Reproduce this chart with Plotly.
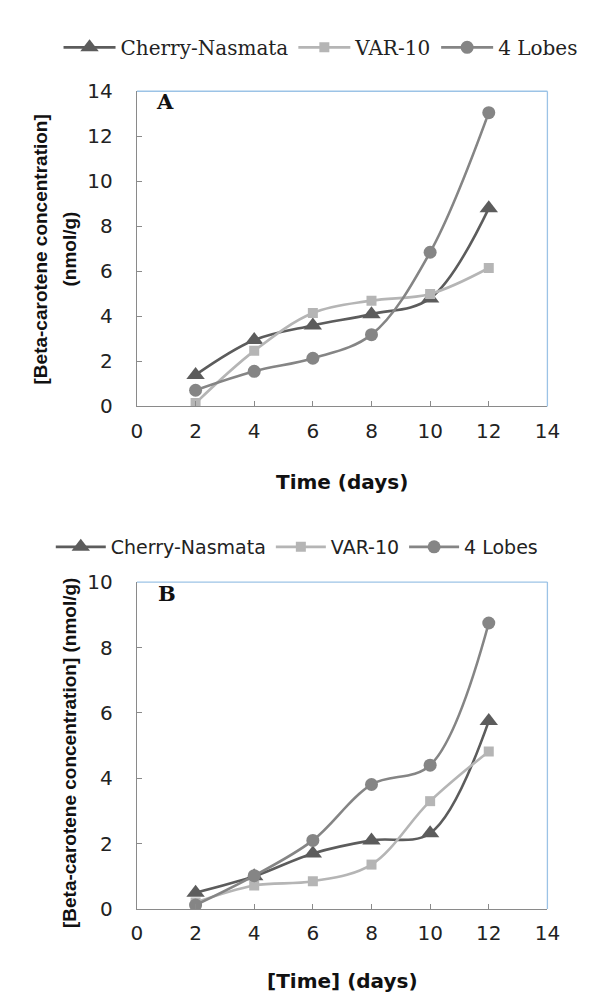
import plotly.graph_objects as go

# ---------------- data ----------------
days = [2, 4, 6, 8, 10, 12]
series_names = ["Cherry-Nasmata", "VAR-10", "4 Lobes"]

a_cherry = [1.40, 2.95, 3.60, 4.10, 4.80, 8.80]
a_var10 = [0.15, 2.47, 4.15, 4.70, 5.00, 6.15]
a_lobes = [0.72, 1.56, 2.14, 3.19, 6.85, 13.05]

b_cherry = [0.50, 1.00, 1.70, 2.10, 2.32, 5.75]
b_var10 = [0.20, 0.72, 0.85, 1.36, 3.30, 4.82]
b_lobes = [0.12, 1.02, 2.10, 3.81, 4.40, 8.75]

x_tick_vals = [0, 2, 4, 6, 8, 10, 12, 14]
ya_tick_vals = [0, 2, 4, 6, 8, 10, 12, 14]
yb_tick_vals = [0, 2, 4, 6, 8, 10]

# ---------------- styles ----------------
W, H = 595, 996
col_cherry = "#5c5c5c"
col_var = "#b5b5b5"
col_lobes = "#858585"
axis_col = "#8a8a8a"
frame_col = "#9cc3e6"

styles = [
    dict(color=col_cherry, symbol="triangle-up", size=16),
    dict(color=col_var, symbol="square", size=10),
    dict(color=col_lobes, symbol="circle", size=13),
]

def px_x(p):
    return p / W

def px_y(p):
    return 1 - p / H

fig = go.Figure()

for panel, (vals, xa, ya, leg) in enumerate([
    ((a_cherry, a_var10, a_lobes), "x", "y", "legend"),
    ((b_cherry, b_var10, b_lobes), "x2", "y2", "legend2"),
]):
    for name, v, st in zip(series_names, vals, styles):
        fig.add_trace(go.Scatter(
            x=days, y=v, name=name, mode="lines+markers",
            line=dict(color=st["color"], width=2.6, shape="spline", smoothing=1.0),
            marker=dict(color=st["color"], symbol=st["symbol"], size=st["size"],
                        line=dict(width=0)),
            xaxis=xa, yaxis=ya, legend=leg,
        ))

xdom = [px_x(127), px_x(551)]
tickfont = dict(family="DejaVu Sans", size=20, color="#222222")

common_x = dict(range=[0, 14], tickvals=x_tick_vals, ticks="inside", ticklen=5,
                tickcolor=axis_col, showline=True, linecolor=axis_col, linewidth=1.3,
                showgrid=False, zeroline=False, tickfont=tickfont,
                ticklabelstandoff=6, fixedrange=True)
common_y = dict(ticks="inside", ticklen=5, tickcolor=axis_col, showline=True,
                linecolor=axis_col, linewidth=1.3, showgrid=False, zeroline=False,
                tickfont=tickfont, ticklabelstandoff=19, fixedrange=True)

fig.update_layout(
    width=W, height=H, autosize=False,
    margin=dict(l=0, r=0, t=0, b=0),
    paper_bgcolor="white", plot_bgcolor="white",
    xaxis=dict(domain=xdom, anchor="y", **common_x),
    yaxis=dict(domain=[px_y(396), px_y(73)], anchor="x", range=[0, 14],
               tickvals=ya_tick_vals, **common_y),
    xaxis2=dict(domain=xdom, anchor="y2", **common_x),
    yaxis2=dict(domain=[px_y(911), px_y(576)], anchor="x2", range=[0, 10],
                tickvals=yb_tick_vals, **common_y),
    legend=dict(orientation="h", x=px_x(46), y=px_y(28), xanchor="left", yanchor="middle",
                font=dict(family="DejaVu Serif", size=20, color="#222222"),
                bgcolor="rgba(0,0,0,0)", itemwidth=52, tracegroupgap=0),
    legend2=dict(orientation="h", x=px_x(38), y=px_y(540), xanchor="left", yanchor="middle",
                 font=dict(family="DejaVu Sans", size=19, color="#222222"),
                 bgcolor="rgba(0,0,0,0)", itemwidth=50, tracegroupgap=0),
    showlegend=True,
)

# frame (top and right borders in light blue)
for xr, yr in [("x domain", "y domain"), ("x2 domain", "y2 domain")]:
    fig.add_shape(type="line", xref=xr, yref=yr, x0=0, x1=1, y0=1, y1=1,
                  line=dict(color=frame_col, width=1.3))
    fig.add_shape(type="line", xref=xr, yref=yr, x0=1, x1=1, y0=0, y1=1,
                  line=dict(color=frame_col, width=1.3))

title_font = dict(family="Liberation Sans", size=19, color="#111111")
xtitle_font = dict(family="DejaVu Sans", size=20, color="#111111")
letter_font = dict(family="DejaVu Serif", size=21, color="#111111")

annots = [
    dict(text="<b>[Beta-carotene concentration]</b>", x=px_x(27), y=px_y(235),
         textangle=-90, font=title_font),
    dict(text="<b>(nmol/g)</b>", x=px_x(57), y=px_y(235), textangle=-90, font=title_font),
    dict(text="<b>[Beta-carotene concentration] (nmol/g)</b>", x=px_x(58), y=px_y(751),
         textangle=-90, font=title_font),
    dict(text="<b>Time (days)</b>", x=px_x(339), y=px_y(473), font=xtitle_font),
    dict(text="<b>[Time] (days)</b>", x=px_x(339), y=px_y(985), font=xtitle_font),
    dict(text="<b>A</b>", x=px_x(156), y=px_y(83), font=letter_font),
    dict(text="<b>B</b>", x=px_x(158), y=px_y(588), font=letter_font),
]
for a in annots:
    fig.add_annotation(xref="paper", yref="paper", showarrow=False,
                       xanchor="center", yanchor="middle", **a)

fig.write_html("out.html")
